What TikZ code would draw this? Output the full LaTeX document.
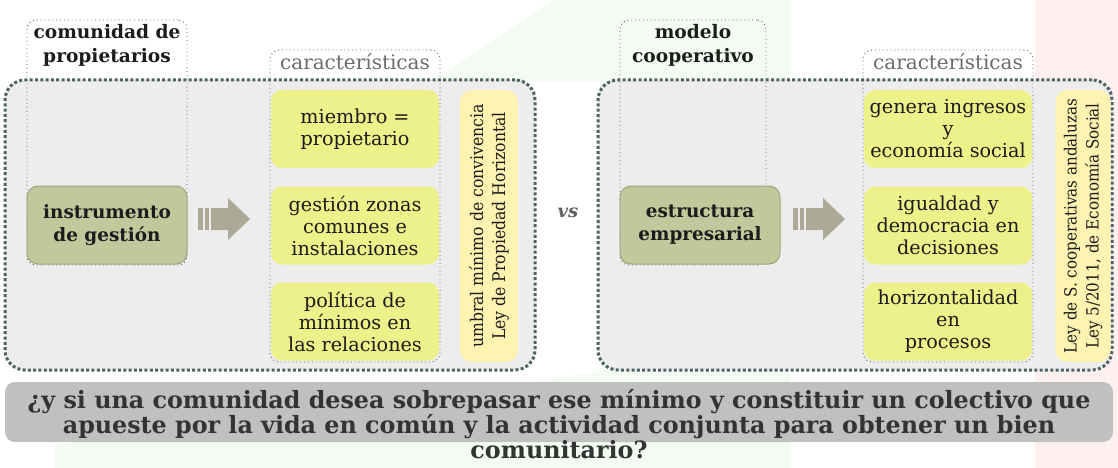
\documentclass[tikz,border=0pt]{standalone}
\usepackage{fontspec}
\setmainfont{DejaVu Serif}
\newfontfamily\condfont{DejaVu Serif Condensed}
\definecolor{panelf}{HTML}{ECEDEC}
\definecolor{panelb}{HTML}{4E6464}
\definecolor{dotc}{HTML}{5A5A5A}
\definecolor{gfill}{HTML}{BFC99B}
\definecolor{gdraw}{HTML}{9DA77E}
\definecolor{yfill}{HTML}{ECF18A}
\definecolor{pyfill}{HTML}{FFF3B2}
\definecolor{arrc}{HTML}{ADA997}
\definecolor{barc}{HTML}{C0C0C0}
\definecolor{txt}{HTML}{1C1C1C}
\definecolor{bartxt}{HTML}{333333}
\definecolor{bggreen}{HTML}{F3FBF3}
\definecolor{bgpink}{HTML}{FFF0F0}
\tikzset{
  panel/.style={draw=panelb, line width=3pt, dash pattern=on 3pt off 2.3pt, fill=panelf, rounded corners=20pt},
  lblbox/.style={draw=dotc, line width=0.9pt, dash pattern=on 0.9pt off 3pt, rounded corners=9pt},
  gbox/.style={fill=gfill, draw=gdraw, line width=1pt, rounded corners=11pt, text=txt,
    font=\fontsize{18.4}{23}\selectfont\bfseries, align=center},
  ybox/.style={fill=yfill, rounded corners=11pt, minimum width=168pt, minimum height=78pt,
    text=txt, font=\fontsize{19.2}{22}\selectfont, align=center, inner sep=0pt},
  pybox/.style={fill=pyfill, rounded corners=12pt, minimum width=58pt, minimum height=272pt},
  vtext/.style={rotate=90, align=center, text=txt, font=\condfont\fontsize{17.4}{22}\selectfont},
  ttl/.style={text=txt, font=\fontsize{18.6}{23.5}\selectfont\bfseries, align=center},
  chartxt/.style={text=black!58, font=\fontsize{20}{22}\selectfont},
  blockarrow/.style={fill=arrc},
}
\begin{document}
\begin{tikzpicture}[x=1pt,y=-1pt]
\useasboundingbox (0,0) rectangle (1118,468);
% faint background
\fill[bggreen] (432,82) -- (553,0) -- (790,0) -- (790,468) -- (55,468) -- (55,445) -- (600,372) -- (600,82) -- cycle;
\fill[bgpink] (1035,0) rectangle (1118,468);
% ---------- left panel ----------
\node[panel, minimum width=530pt, minimum height=290pt] (lp) at (270,225) {};
\node[lblbox, minimum width=160pt, minimum height=245pt] (lf1) at (107,142.5) {};
\node[ttl, anchor=north] (lt) at (107,21) {comunidad de\\propietarios};
\node[chartxt, anchor=north] (lc) at (355,50) {características};
\node[gbox, minimum width=160pt, minimum height=78pt] (lg) at (107,225) {instrumento\\de gestión};
\node[ybox] (ly1) at (355,129) {miembro =\\propietario};
\node[ybox] (ly2) at (355,225.5) {gestión zonas\\comunes e\\instalaciones};
\node[ybox] (ly3) at (355,321.5) {política de\\mínimos en\\las relaciones};
\node[lblbox, minimum width=170pt, minimum height=312pt] (lf2) at (355,206) {};
\node[pybox] (lv) at (489,226) {};
\node[vtext] (lvt) at (lv) {umbral mínimo de convivencia\\Ley de Propiedad Horizontal};
\begin{scope}[shift={(198,198)}]
  \fill[blockarrow] (0,10) rectangle (4.5,32);
  \fill[blockarrow] (6.5,10) rectangle (11,32);
  \fill[blockarrow] (13,10) -- (30,10) -- (30,0) -- (52,21) -- (30,42) -- (30,32) -- (13,32) -- cycle;
\end{scope}
% vs
\node[text=black!62, font=\fontsize{18}{18}\selectfont\bfseries\itshape] (vs) at (568,213) {vs};
% ---------- right panel ----------
\node[panel, minimum width=514pt, minimum height=290pt] (rp) at (855,225) {};
\node[lblbox, minimum width=146pt, minimum height=245pt] (rf1) at (693,142.5) {};
\node[ttl, anchor=north] (rt) at (693,21) {modelo\\cooperativo};
\node[chartxt, anchor=north] (rc) at (948,50) {características};
\node[gbox, minimum width=160pt, minimum height=78pt] (rg) at (700,225) {estructura\\empresarial};
\node[ybox] (ry1) at (948,129) {genera ingresos\\y\\economía social};
\node[ybox] (ry2) at (948,225.5) {igualdad y\\democracia en\\decisiones};
\node[ybox] (ry3) at (948,321.5) {horizontalidad\\en\\procesos};
\node[lblbox, minimum width=170pt, minimum height=312pt] (rf2) at (948,206) {};
\node[pybox, minimum width=55pt] (rv) at (1083,226) {};
\node[vtext, font=\condfont\fontsize{16.8}{22}\selectfont] (rvt) at (rv) {Ley de S. cooperativas andaluzas\\Ley 5/2011, de Economía Social};
\begin{scope}[shift={(793,198)}]
  \fill[blockarrow] (0,10) rectangle (4.5,32);
  \fill[blockarrow] (6.5,10) rectangle (11,32);
  \fill[blockarrow] (13,10) -- (30,10) -- (30,0) -- (52,21) -- (30,42) -- (30,32) -- (13,32) -- cycle;
\end{scope}
% ---------- bottom question ----------
\node[fill=barc, rounded corners=10pt, minimum width=1108pt, minimum height=60pt] (bar) at (559,412) {};
\node[text=bartxt, align=center, font=\fontsize{23.8}{25}\selectfont\bfseries] (q) at (559,424) {¿y si una comunidad desea sobrepasar ese mínimo y constituir un colectivo que\\apueste por la vida en común y la actividad conjunta para obtener un bien\\comunitario?};
\end{tikzpicture}
\end{document}
